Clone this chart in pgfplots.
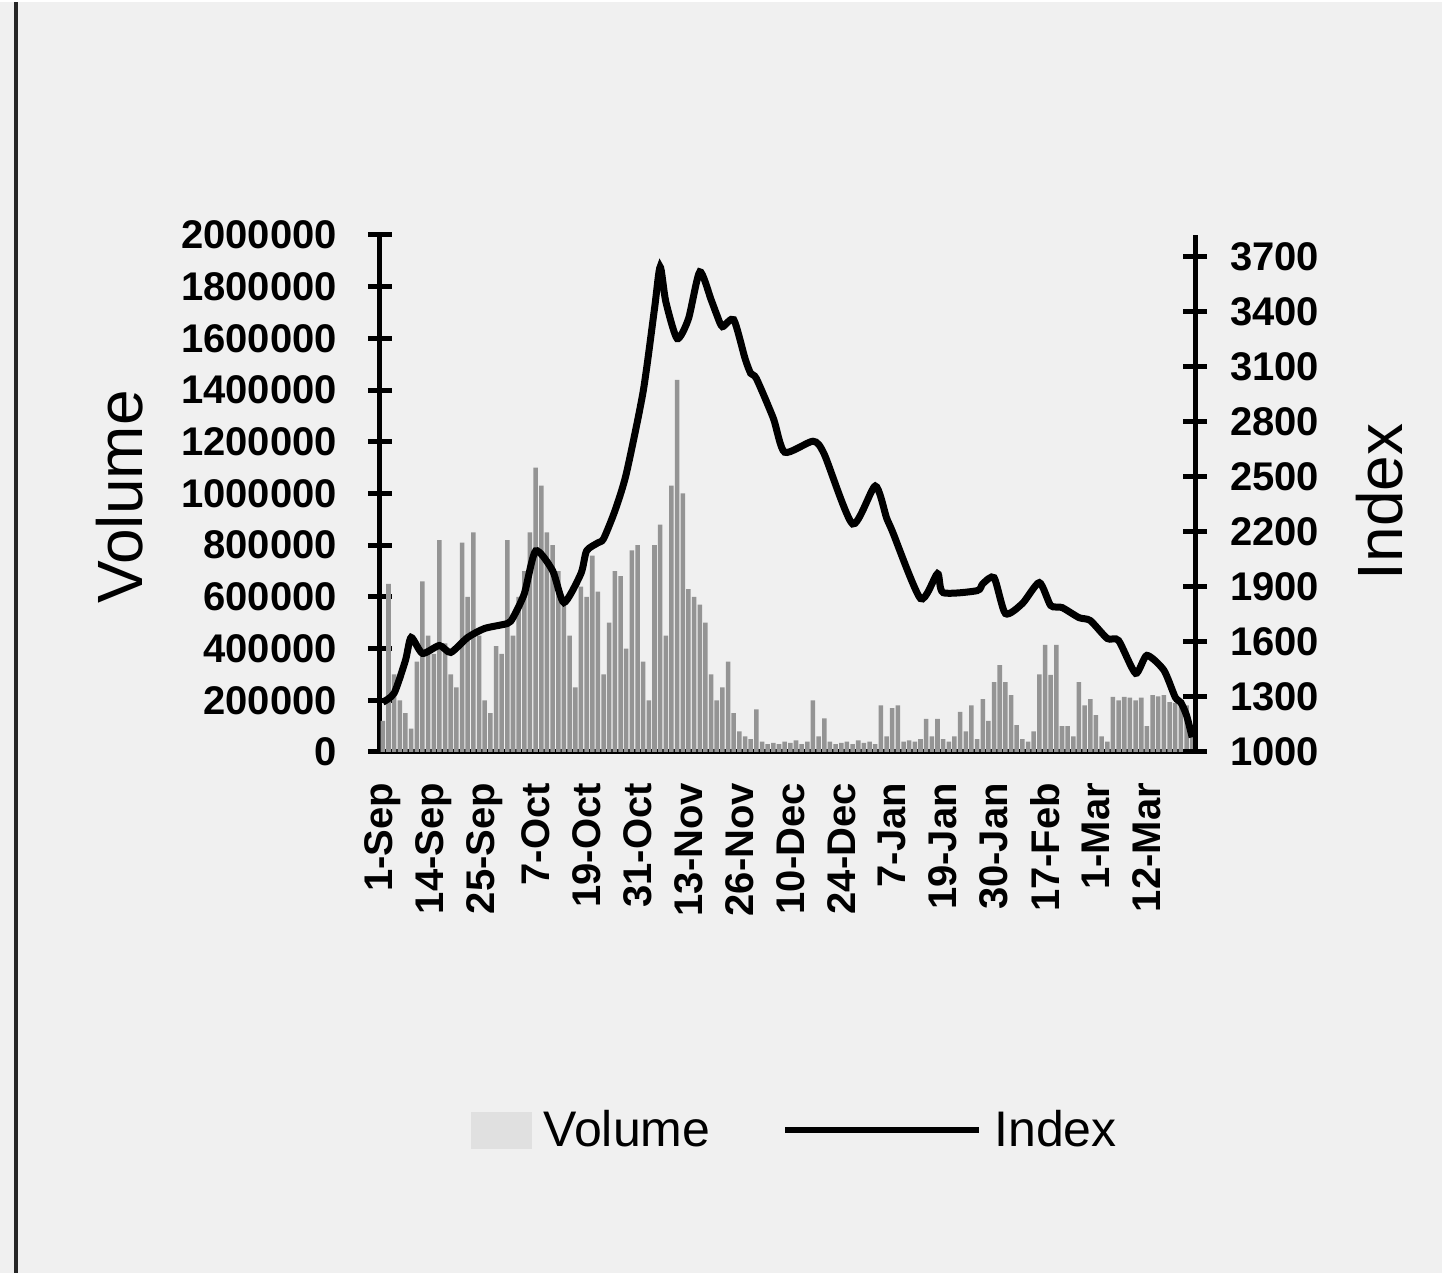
\documentclass[border=0pt]{standalone}
\usepackage{fontspec}
\setmainfont{Liberation Sans}
\usepackage{pgfplots}
\pgfplotsset{compat=1.18}

% daily volume, one bar per trading day (0 = 1-Sep)
\pgfplotstableread{
x y
0 120000
1 650000
2 300000
3 200000
4 150000
5 90000
6 350000
7 660000
8 450000
9 380000
10 820000
11 420000
12 300000
13 250000
14 810000
15 600000
16 850000
17 450000
18 200000
19 150000
20 410000
21 380000
22 820000
23 450000
24 600000
25 700000
26 850000
27 1100000
28 1030000
29 850000
30 800000
31 700000
32 600000
33 450000
34 250000
35 640000
36 600000
37 760000
38 620000
39 300000
40 500000
41 700000
42 680000
43 400000
44 780000
45 800000
46 350000
47 200000
48 800000
49 880000
50 450000
51 1030000
52 1440000
53 1000000
54 630000
55 600000
56 570000
57 500000
58 300000
59 200000
60 250000
61 350000
62 150000
63 80000
64 60000
65 50000
66 165000
67 40000
68 30000
69 35000
70 30000
71 40000
72 35000
73 45000
74 30000
75 40000
76 200000
77 60000
78 130000
79 40000
80 30000
81 35000
82 40000
83 30000
84 45000
85 35000
86 40000
87 30000
88 180000
89 60000
90 170000
91 180000
92 40000
93 45000
94 40000
95 50000
96 128000
97 60000
98 128000
99 50000
100 40000
101 60000
102 155000
103 80000
104 180000
105 50000
106 205000
107 120000
108 270000
109 336000
110 270000
111 220000
112 104000
113 50000
114 40000
115 80000
116 300000
117 414000
118 298000
119 414000
120 100000
121 100000
122 60000
123 270000
124 180000
125 205000
126 143000
127 60000
128 40000
129 213000
130 200000
131 213000
132 210000
133 200000
134 210000
135 100000
136 220000
137 215000
138 220000
139 193000
140 190000
141 200000
142 180000
143 60000
}\volumedata

% index level
\pgfplotstableread{
x y
0 1272
2 1321
4 1500
5 1625
7 1538
10 1581
12 1543
15 1625
18 1674
22 1701
23 1733
25 1864
27 2097
30 1989
32 1815
35 1973
36 2097
38 2141
39 2163
41 2315
43 2516
46 2967
48 3418
49 3646
50 3456
52 3255
54 3363
56 3619
58 3467
59 3385
60 3320
62 3358
64 3146
65 3065
66 3037
69 2820
71 2635
76 2695
78 2624
83 2244
87 2451
89 2277
90 2206
95 1837
98 1973
99 1869
105 1880
106 1918
108 1951
110 1755
113 1810
116 1924
118 1799
120 1788
123 1733
125 1717
128 1619
130 1608
133 1429
135 1527
138 1446
140 1299
141 1270
142 1200
143 1080
}\indexdata

\begin{document}
\begin{tikzpicture}
\fill[black!6] (0,0) rectangle (721pt,635.5pt);
\draw[line width=2pt, black!85] (8pt,0) -- (8pt,635.5pt);

\pgfplotsset{
  common/.style={
    at={(190pt,260.5pt)}, anchor=south west,
    scale only axis, width=407.5pt, height=258.5pt,
    xmin=-0.5, xmax=143.5,
    axis line style={-, line width=2.5pt},
    tick align=center, major tick length=12pt,
    tick style={black, line width=2.5pt},
    /pgf/number format/assume math mode=true,
    /pgf/number format/1000 sep={},
    scaled y ticks=false,
  },
}

\begin{axis}[
  common,
  ymin=0, ymax=2000000,
  axis x line*=bottom, axis y line*=left,
  ytick={0,200000,...,2000000},
  yticklabel style={/pgf/number format/fixed,
    font=\bfseries\fontsize{20}{24}\selectfont, xshift=-12pt},
  xtick={0,9,...,135},
  xticklabels={1-Sep,14-Sep,25-Sep,7-Oct,19-Oct,31-Oct,13-Nov,26-Nov,10-Dec,24-Dec,7-Jan,19-Jan,30-Jan,17-Feb,1-Mar,12-Mar},
  xtick style={draw=none},
  xticklabel style={rotate=90, anchor=east, font=\bfseries\fontsize{20}{24}\selectfont, xshift=-6pt},
  ylabel={Volume},
  every axis y label/.style={at={(axis description cs:-0.319,0.493)}, rotate=90, anchor=center, font=\fontsize{32}{38}\selectfont},
]
\addplot[ybar, bar width=0.8, fill=black!42, draw=none] table[x=x, y=y] {\volumedata};
\end{axis}

\begin{axis}[
  common,
  ymin=1000, ymax=3820,
  axis x line=none, axis y line*=right,
  ytick={1000,1300,...,3700},
  yticklabel style={font=\bfseries\fontsize{20}{24}\selectfont, xshift=8pt},
  ylabel={Index},
  every axis y label/.style={at={(axis description cs:1.227,0.484)}, rotate=90, anchor=center, font=\fontsize{32}{38}\selectfont},
  legend columns=2,
  legend style={at={(axis description cs:0.515,-0.731)}, anchor=center, draw=none, fill=none,
    font=\fontsize{25}{30}\selectfont,
    nodes={inner xsep=6pt},
    /tikz/every even column/.append style={column sep=30pt}},
]
\addlegendimage{legend image code/.code={\fill[black!12] (0pt,-9pt) rectangle (30pt,9pt);}}
\addlegendentry{Volume}
\addplot[black, line width=3.5pt, smooth, tension=0.4,
  legend image code/.code={\draw[line width=3pt] (0pt,0pt) -- (97pt,0pt);}]
  table[x=x, y=y] {\indexdata};
\addlegendentry{Index}
\end{axis}
\end{tikzpicture}
\end{document}
